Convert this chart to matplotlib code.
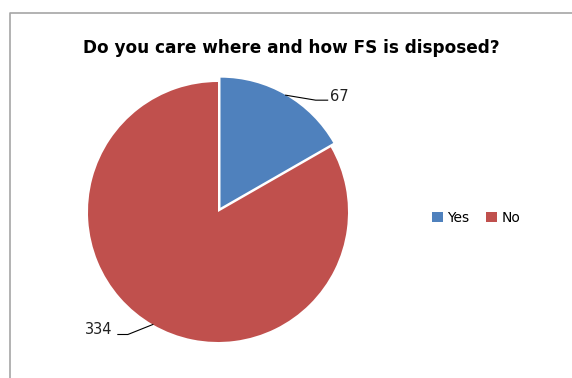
import numpy as np
import matplotlib
matplotlib.use("Agg")
import matplotlib.pyplot as plt
from matplotlib.patches import Patch

# data
labels = ["Yes", "No"]
counts = [67, 334]
colors = ["#4F81BD", "#C0504D"]
title = "Do you care where and how FS is disposed?"

W, H = 572, 378
fig = plt.figure(figsize=(W / 100, H / 100), dpi=100)
ax = fig.add_axes([0, 0, 1, 1])

# pie in pixel coords (y flipped by hand)
cx, cy, r = 218, H - 212, 130
wedges, _ = ax.pie(counts, colors=colors, startangle=90, counterclock=False,
                   center=(cx, cy), radius=r, explode=[5, 0],
                   wedgeprops=dict(linewidth=0))
ax.set_xlim(0, W)
ax.set_ylim(0, H)
ax.set_aspect("equal")
ax.axis("off")

# chart border
ax.plot([9.5, 9.5, W], [0, H - 12.5, H - 12.5], color="#a6a6a6", lw=1.2,
        solid_capstyle="butt")

# data labels with leader lines
for w, n in zip(wedges, counts):
    ang = np.deg2rad((w.theta1 + w.theta2) / 2)
    ex, ey = w.center
    px, py = ex + w.r * np.cos(ang), ey + w.r * np.sin(ang)
    if np.cos(ang) > 0:
        kx, ky, tx = px + 30, py - 5, px + 42
        ax.text(tx + 2, ky + 4, str(n), ha="left", va="center",
                fontsize=10.5, color="#222222")
    else:
        kx, ky, tx = px - 25, py - 10, px - 35
        ax.text(tx - 5, ky + 5, str(n), ha="right", va="center",
                fontsize=10.5, color="#222222")
    ax.plot([px, kx, tx], [py, ky, ky], color="black", lw=0.8)

ax.text(291, H - 48, title, ha="center", va="center", fontsize=12.2,
        fontweight="bold", color="black")

handles = [Patch(facecolor=c, edgecolor="none") for c in colors]
fig.legend(handles, labels, ncol=2, loc="center left",
           bbox_to_anchor=(425 / W, 1 - 218 / H), frameon=False,
           fontsize=10, handlelength=0.8, handleheight=0.8,
           handletextpad=0.3, columnspacing=1.2, borderpad=0)

fig.savefig("out.png", dpi=100)
